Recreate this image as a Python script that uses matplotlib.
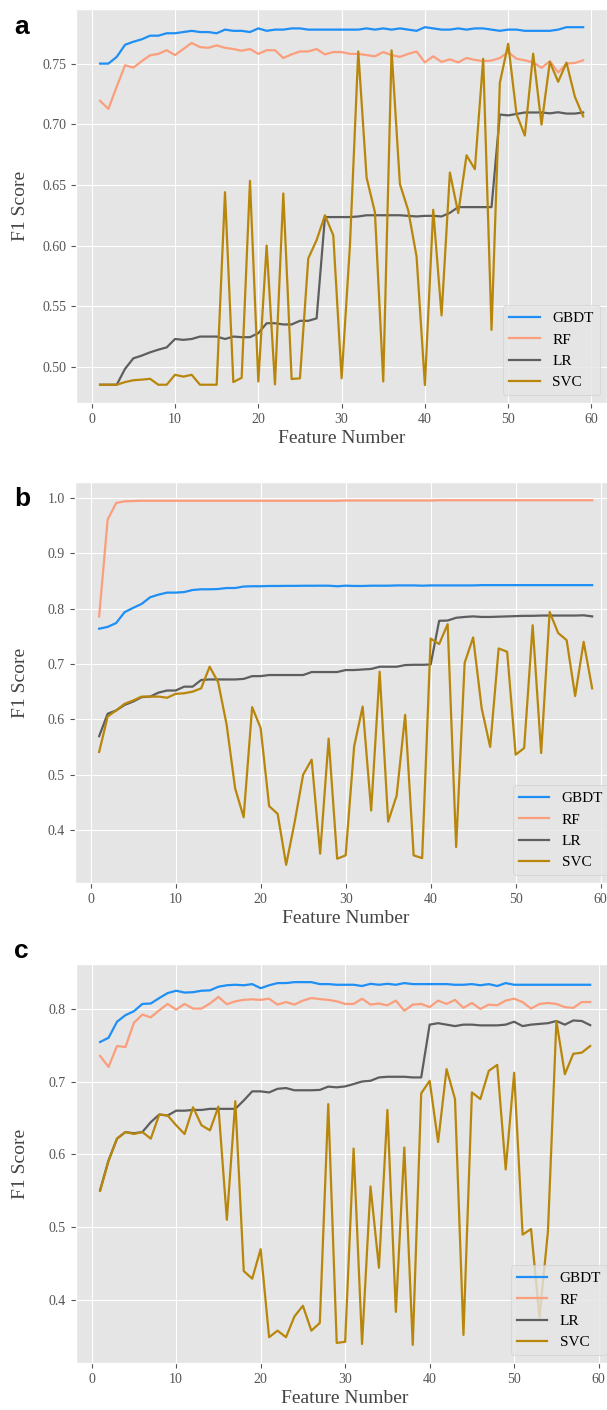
import numpy as np
import matplotlib
matplotlib.use("Agg")
import matplotlib.pyplot as plt

plt.style.use("ggplot")
plt.rcParams["font.family"] = ["Liberation Serif", "DejaVu Serif"]

features = np.arange(1, 60)

# panel a
gbdt_a = [0.750, 0.750, 0.7555, 0.7655, 0.768, 0.770, 0.773, 0.773, 0.775, 0.775,
          0.776, 0.777, 0.776, 0.776, 0.775, 0.778, 0.777, 0.777, 0.776, 0.779,
          0.777, 0.778, 0.778, 0.779, 0.779, 0.778, 0.778, 0.778, 0.778, 0.778,
          0.778, 0.778, 0.779, 0.778, 0.779, 0.778, 0.779, 0.778, 0.777, 0.780,
          0.779, 0.778, 0.778, 0.779, 0.778, 0.779, 0.779, 0.778, 0.777, 0.778,
          0.778, 0.777, 0.777, 0.777, 0.777, 0.778, 0.780, 0.780, 0.780]
rf_a = [0.7193, 0.7127, 0.731, 0.7486, 0.7467, 0.752, 0.7568, 0.758, 0.761, 0.757,
        0.762, 0.767, 0.7636, 0.763, 0.765, 0.763, 0.762, 0.7606, 0.762, 0.758,
        0.761, 0.761, 0.7546, 0.7576, 0.760, 0.760, 0.762, 0.7576, 0.7595, 0.7595,
        0.758, 0.758, 0.757, 0.756, 0.7595, 0.757, 0.7555, 0.758, 0.760, 0.751,
        0.756, 0.7514, 0.7535, 0.751, 0.7546, 0.753, 0.752, 0.7525, 0.7546, 0.7595,
        0.754, 0.7527, 0.751, 0.7465, 0.752, 0.7427, 0.750, 0.7505, 0.7527]
lr_a = [0.4853, 0.4853, 0.4853, 0.4984, 0.5071, 0.5093, 0.512, 0.5142, 0.5161, 0.523,
        0.5223, 0.523, 0.525, 0.525, 0.525, 0.523, 0.525, 0.5245, 0.5245, 0.5278,
        0.536, 0.536, 0.535, 0.535, 0.538, 0.538, 0.540, 0.6235, 0.6235, 0.6235,
        0.6235, 0.624, 0.625, 0.625, 0.625, 0.625, 0.625, 0.6245, 0.624, 0.6245,
        0.6245, 0.624, 0.627, 0.6317, 0.6317, 0.6317, 0.6317, 0.6317, 0.708, 0.7073,
        0.7085, 0.7097, 0.7097, 0.7097, 0.709, 0.7099, 0.7088, 0.7088, 0.7097]
svc_a = [0.4853, 0.4853, 0.4853, 0.4875, 0.489, 0.4895, 0.4902, 0.4853, 0.4853, 0.4935,
         0.492, 0.4935, 0.4853, 0.4853, 0.4853, 0.644, 0.4875, 0.491, 0.6534, 0.488,
         0.600, 0.4856, 0.643, 0.490, 0.4906, 0.5895, 0.6045, 0.625, 0.6085, 0.4906,
         0.600, 0.760, 0.656, 0.6275, 0.488, 0.7609, 0.6507, 0.629, 0.591, 0.485,
         0.6295, 0.5424, 0.6602, 0.6268, 0.6744, 0.663, 0.754, 0.5305, 0.7342, 0.7663,
         0.7084, 0.6907, 0.7582, 0.6997, 0.7514, 0.7350, 0.7508, 0.7228, 0.7065]

# panel b
gbdt_b = [0.7637, 0.767, 0.774, 0.7937, 0.8014, 0.8086, 0.8206, 0.8254, 0.829, 0.829,
          0.830, 0.8337, 0.835, 0.835, 0.8355, 0.8373, 0.8373, 0.840, 0.8405, 0.8405,
          0.841, 0.841, 0.8412, 0.8412, 0.8414, 0.8414, 0.8415, 0.8415, 0.8405, 0.8415,
          0.841, 0.841, 0.8415, 0.8415, 0.8415, 0.842, 0.842, 0.842, 0.8415, 0.842,
          0.842, 0.842, 0.842, 0.842, 0.842, 0.8425, 0.8425, 0.8425, 0.8425, 0.8425,
          0.8425, 0.8425, 0.8425, 0.8425, 0.8425, 0.8425, 0.8425, 0.8425, 0.8425]
rf_b = [0.786, 0.961, 0.991, 0.994, 0.9945, 0.995, 0.995, 0.995, 0.995, 0.995,
        0.995, 0.995, 0.995, 0.995, 0.995, 0.995, 0.995, 0.995, 0.995, 0.995,
        0.995, 0.995, 0.995, 0.995, 0.995, 0.995, 0.995, 0.995, 0.995, 0.9955,
        0.9955, 0.9955, 0.9955, 0.9955, 0.9955, 0.9955, 0.9955, 0.9955, 0.9955, 0.9955,
        0.996, 0.996, 0.996, 0.996, 0.996, 0.996, 0.996, 0.996, 0.996, 0.996,
        0.996, 0.996, 0.996, 0.996, 0.996, 0.996, 0.996, 0.996, 0.996]
lr_b = [0.5694, 0.610, 0.616, 0.626, 0.632, 0.640, 0.641, 0.6483, 0.652, 0.652,
        0.659, 0.659, 0.671, 0.672, 0.672, 0.672, 0.672, 0.673, 0.678, 0.678,
        0.680, 0.680, 0.680, 0.680, 0.680, 0.6854, 0.6854, 0.6854, 0.6854, 0.689,
        0.689, 0.690, 0.691, 0.695, 0.695, 0.695, 0.698, 0.6985, 0.6985, 0.699,
        0.778, 0.7785, 0.7835, 0.785, 0.786, 0.785, 0.785, 0.7855, 0.786, 0.7865,
        0.787, 0.787, 0.7875, 0.7875, 0.7875, 0.7875, 0.7875, 0.788, 0.786]
svc_b = [0.541, 0.605, 0.616, 0.628, 0.634, 0.641, 0.641, 0.641, 0.639, 0.646,
         0.647, 0.650, 0.656, 0.695, 0.667, 0.590, 0.475, 0.423, 0.622, 0.584,
         0.443, 0.429, 0.337, 0.414, 0.500, 0.527, 0.357, 0.565, 0.348, 0.354,
         0.551, 0.623, 0.435, 0.686, 0.415, 0.462, 0.608, 0.354, 0.349, 0.746,
         0.736, 0.772, 0.369, 0.702, 0.748, 0.620, 0.550, 0.728, 0.722, 0.536,
         0.548, 0.770, 0.539, 0.794, 0.756, 0.743, 0.642, 0.740, 0.656]

# panel c
gbdt_c = [0.7542, 0.760, 0.782, 0.791, 0.7964, 0.8064, 0.807, 0.8145, 0.8213, 0.8245,
          0.822, 0.8225, 0.8245, 0.825, 0.830, 0.832, 0.8327, 0.832, 0.8336, 0.828,
          0.832, 0.835, 0.835, 0.8363, 0.8363, 0.8363, 0.8336, 0.8336, 0.8327, 0.8327,
          0.8327, 0.831, 0.834, 0.8327, 0.834, 0.8327, 0.835, 0.8336, 0.8336, 0.8336,
          0.8336, 0.8336, 0.8327, 0.8327, 0.8336, 0.832, 0.8336, 0.831, 0.835, 0.8327,
          0.8327, 0.8327, 0.8327, 0.8327, 0.8327, 0.8327, 0.8327, 0.8327, 0.8327]
rf_c = [0.735, 0.720, 0.7487, 0.7473, 0.7805, 0.7918, 0.788, 0.7977, 0.8064, 0.7986,
        0.8064, 0.800, 0.800, 0.807, 0.816, 0.806, 0.810, 0.812, 0.8127, 0.812,
        0.8136, 0.8055, 0.809, 0.8055, 0.811, 0.8145, 0.813, 0.812, 0.810, 0.8064,
        0.8064, 0.8136, 0.8055, 0.807, 0.8045, 0.811, 0.797, 0.8055, 0.8064, 0.802,
        0.811, 0.8064, 0.812, 0.801, 0.8077, 0.7995, 0.8055, 0.8045, 0.811, 0.8136,
        0.809, 0.800, 0.8064, 0.8077, 0.8064, 0.802, 0.801, 0.809, 0.809]
lr_c = [0.551, 0.592, 0.6216, 0.6307, 0.629, 0.6307, 0.6443, 0.6547, 0.6534, 0.660,
        0.660, 0.661, 0.661, 0.6625, 0.6625, 0.6625, 0.6625, 0.674, 0.6865, 0.6865,
        0.685, 0.690, 0.691, 0.688, 0.688, 0.688, 0.6885, 0.693, 0.692, 0.6933,
        0.6965, 0.700, 0.701, 0.7056, 0.7065, 0.7065, 0.7065, 0.7056, 0.7056, 0.778,
        0.780, 0.778, 0.776, 0.778, 0.778, 0.777, 0.777, 0.777, 0.778, 0.782,
        0.776, 0.778, 0.779, 0.780, 0.783, 0.778, 0.7837, 0.783, 0.7773]
svc_c = [0.550, 0.591, 0.6216, 0.6307, 0.628, 0.6307, 0.6216, 0.6547, 0.6534, 0.640,
         0.628, 0.6647, 0.640, 0.633, 0.6656, 0.5104, 0.673, 0.440, 0.4296, 0.470,
         0.3493, 0.3583, 0.3493, 0.3778, 0.3924, 0.3583, 0.3688, 0.669, 0.3415, 0.343,
         0.608, 0.340, 0.556, 0.4446, 0.661, 0.384, 0.6094, 0.3388, 0.6838, 0.701,
         0.617, 0.717, 0.676, 0.3524, 0.685, 0.676, 0.7147, 0.7228, 0.5794, 0.712,
         0.490, 0.4977, 0.3765, 0.4945, 0.783, 0.710, 0.738, 0.7396, 0.7487]

labels = ["GBDT", "RF", "LR", "SVC"]
colors = ["#1E8FF5", "#FA9E7C", "#5E5E5E", "#B8860B"]

panels = [
    ("a", [gbdt_a, rf_a, lr_a, svc_a]),
    ("b", [gbdt_b, rf_b, lr_b, svc_b]),
    ("c", [gbdt_c, rf_c, lr_c, svc_c]),
]

# axes boxes in pixels: left, top, right, bottom
boxes = [(75.9, 9.3, 607.3, 403), (74.5, 482, 616.8, 883), (75.6, 964, 614.7, 1363)]
letter_y = [34, 506, 958]

W, H = 607, 1410
fig = plt.figure(figsize=(W / 100, H / 100), dpi=100)

for (letter, series), (l, t, r, b), ly in zip(panels, boxes, letter_y):
    ax = fig.add_axes([l / W, 1 - b / H, (r - l) / W, (b - t) / H])
    for vals, lab, col in zip(series, labels, colors):
        ax.plot(features, vals, color=col, lw=1.6, label=lab)
    ax.set_xlim(-1.9, 61.9)
    ax.set_xticks([0, 10, 20, 30, 40, 50, 60])
    ax.tick_params(labelsize=10, colors="#555555")
    ax.set_xlabel("Feature Number", fontsize=14, color="#444444", labelpad=3)
    ax.set_ylabel("F1 Score", fontsize=14, color="#444444")
    ax.yaxis.set_label_coords((29 - l) / (r - l), 0.5)
    ax.legend(loc="lower right", fontsize=11, framealpha=0.8)
    fig.text(14 / W, 1 - ly / H, letter, fontsize=19, fontweight="bold",
             family="Liberation Sans", ha="left", va="baseline")

fig.savefig("out.png", dpi=100)
